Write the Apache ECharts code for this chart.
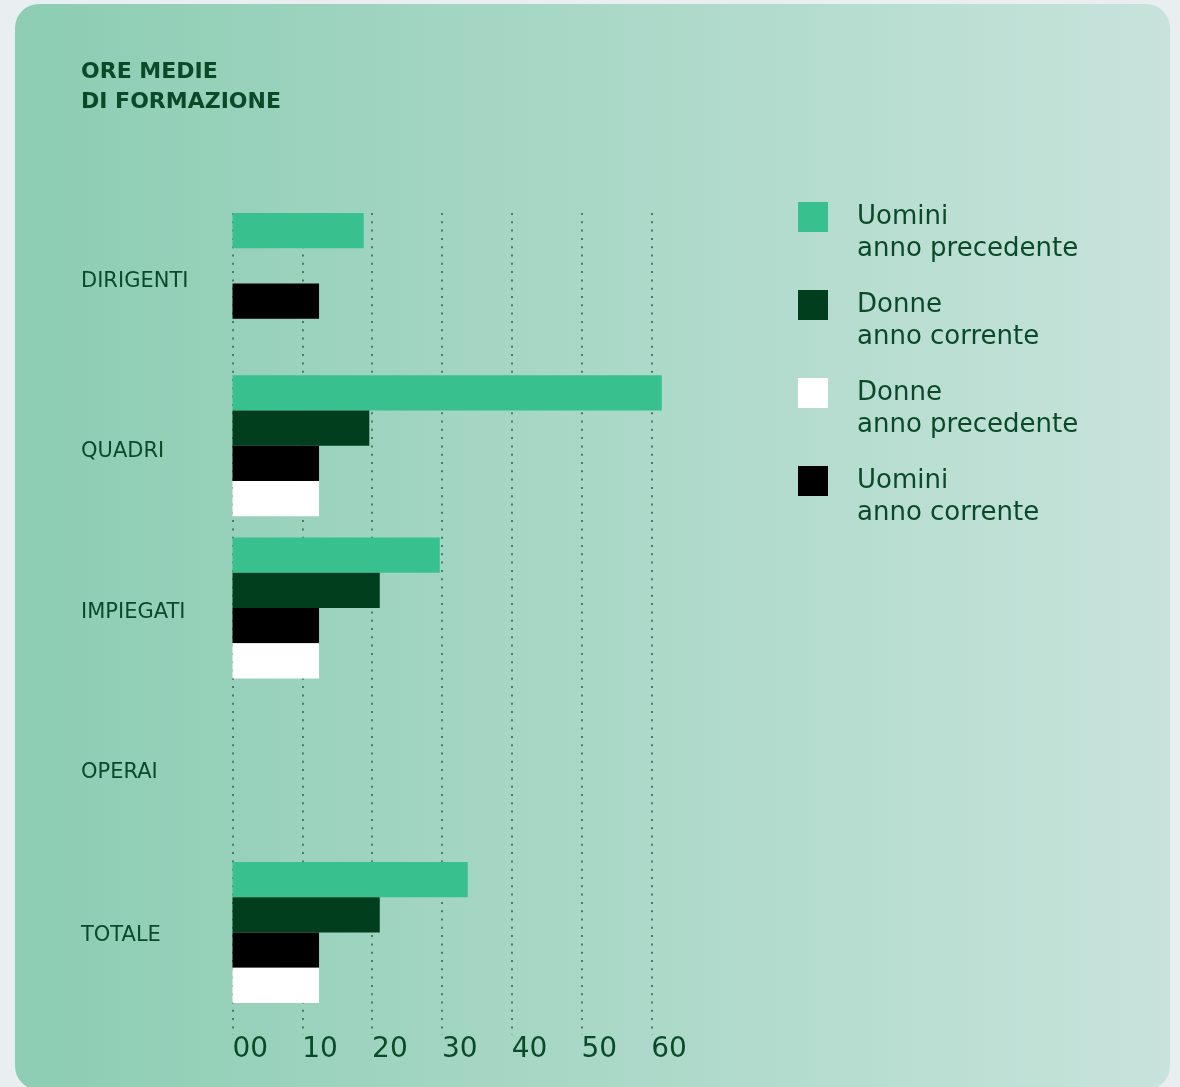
<!DOCTYPE html>
<html>
<head>
<meta charset="utf-8">
<script src="https://cdn.jsdelivr.net/npm/echarts@6/dist/echarts.min.js"></script>
<style>
html,body{margin:0;padding:0;background:#e9eef1;}
#chart{width:1180px;height:1087px;}
</style>
</head>
<body>
<div id="chart"></div>
<script>
const categories = ['DIRIGENTI', 'QUADRI', 'IMPIEGATI', 'OPERAI', 'TOTALE'];
const uominiPrec = [18.8, 61.5, 29.7, null, 33.7];
const donneCorr = [null, 19.6, 21.1, null, 21.1];
const uominiCorr = [12.4, 12.4, 12.4, null, 12.4];
const donnePrec = [null, 12.4, 12.4, null, 12.4];
const seriesNames = ['Uomini anno precedente', 'Donne anno corrente', 'Uomini anno corrente', 'Donne anno precedente'];
const legendOrder = ['Uomini anno precedente', 'Donne anno corrente', 'Donne anno precedente', 'Uomini anno corrente'];
const tickValues = [0, 10, 20, 30, 40, 50, 60];

const FONT = '"DejaVu Sans", sans-serif';
const TXT = '#0a4a29';
const colors = ['#38c08f', '#003e1e', '#000000', '#ffffff'];
const seriesData = [uominiPrec, donneCorr, uominiCorr, donnePrec];

const chart = echarts.init(document.getElementById('chart'), null, {renderer: 'canvas'});
const unit = 6.98;
const labelRich = {
  c0: {padding: [0, 0, 3, 0]},
  c1: {padding: [11, 0, 0, 0]},
  c2: {padding: [10, 0, 0, 0]},
  c3: {padding: [4, 0, 0, 0]},
  c4: {padding: [7, 0, 0, 0]}
};
Object.values(labelRich).forEach(r => { r.fontFamily = FONT; r.fontSize = 21; r.color = TXT; });

const option = {
  animation: false,
  textStyle: {fontFamily: FONT},
  graphic: [{
    type: 'rect', z: -10, silent: true,
    shape: {x: 15, y: 4, width: 1155, height: 1086, r: 24},
    style: {fill: new echarts.graphic.LinearGradient(0, 0, 1, 0, [
      {offset: 0, color: '#8ccdb3'}, {offset: 1, color: '#c7e3db'}
    ])}
  }],
  title: {
    text: 'ORE MEDIE\nDI FORMAZIONE',
    left: 81, top: 57, padding: 0,
    textStyle: {fontFamily: FONT, fontSize: 22, fontWeight: 'bold', color: TXT, lineHeight: 30}
  },
  legend: {
    data: legendOrder,
    orient: 'vertical',
    left: 798, top: 169, padding: 0,
    itemWidth: 30, itemHeight: 30, itemGap: -8,
    icon: 'rect', selectedMode: false,
    formatter: n => '\n' + n.replace(' anno', '\nanno'),
    textStyle: {fontFamily: FONT, fontSize: 26, lineHeight: 32, color: TXT, padding: [0, 0, 0, 24]}
  },
  grid: [
    {left: 232.5, top: 202.4, width: 70 * unit, height: 811.25},
    {left: 232.5, top: 213, width: 60 * unit, height: 822}
  ],
  xAxis: [
    {gridIndex: 0, type: 'value', min: 0, max: 70, show: false, splitLine: {show: false}},
    {gridIndex: 1, type: 'value', min: 0, max: 60, interval: 10,
     axisLine: {show: false}, axisTick: {show: false},
     splitLine: {show: true, lineStyle: {color: '#4a7d68', width: 2, type: [2, 6.3]}},
     axisLabel: {margin: 1, align: 'left', fontFamily: FONT, fontSize: 28, color: TXT,
       formatter: v => tickValues.includes(v) ? (v === 0 ? '00' : String(v)) : ''}}
  ],
  yAxis: [
    {gridIndex: 0, type: 'category', data: categories, inverse: true,
     axisLine: {show: false}, axisTick: {show: false}, splitLine: {show: false},
     axisLabel: {align: 'left', margin: 151.5, fontFamily: FONT, fontSize: 21, color: TXT,
       formatter: (v, i) => '{c' + i + '|' + v + '}', rich: labelRich}},
    {gridIndex: 1, type: 'value', show: false, min: 0, max: 1}
  ],
  series: seriesNames.map((name, i) => ({
    name, type: 'bar', xAxisIndex: 0, yAxisIndex: 0,
    data: seriesData[i], barWidth: 35.25, barGap: '0%',
    itemStyle: {color: colors[i]}
  }))
};
chart.setOption(option);
</script>
</body>
</html>
